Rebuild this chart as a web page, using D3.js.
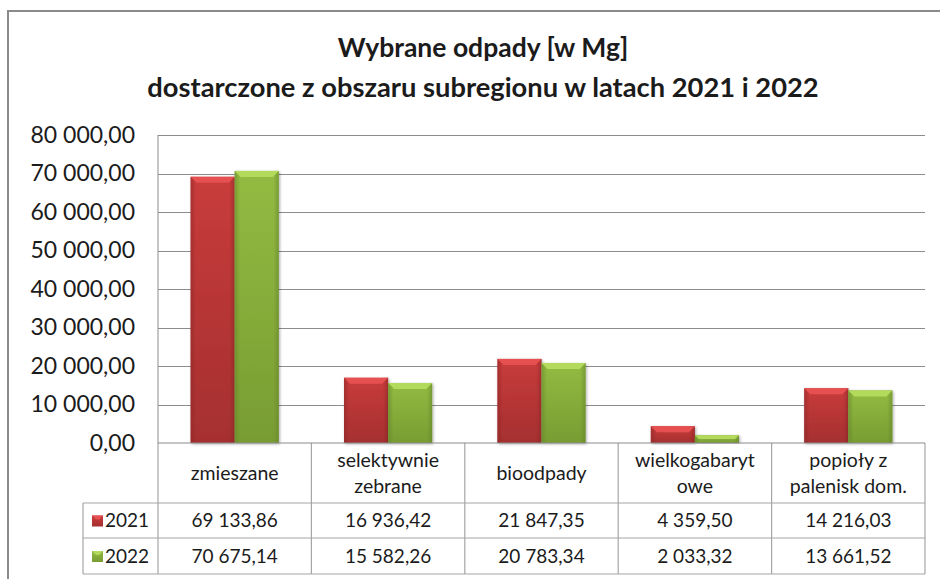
<!DOCTYPE html>
<html>
<head>
<meta charset="utf-8">
<script src="https://cdn.jsdelivr.net/npm/d3@7/dist/d3.min.js"></script>
<style>
  body { margin: 0; background: #fff; }
  svg { display: block; }
  text { font-family: Lato, "Open Sans", sans-serif; fill: #1b1b1b; }
</style>
</head>
<body>
<div id="chart"></div>
<script>
// data
let categories = ["zmieszane", "selektywnie\nzebrane", "bioodpady", "wielkogabaryt\nowe", "popioły z\npalenisk dom."];
let years = ["2021", "2022"];
let values2021 = [69133.86, 16936.42, 21847.35, 4359.50, 14216.03];
let values2022 = [70675.14, 15582.26, 20783.34, 2033.32, 13661.52];
let yTicks = [0, 10000, 20000, 30000, 40000, 50000, 60000, 70000, 80000];
let titleLines = ["Wybrane odpady [w Mg]", "dostarczone z obszaru subregionu w latach 2021 i 2022"];

let width = 940, height = 579;
let plot = { left: 158, right: 925, top: 135, bottom: 443 };
let rowH = [60, 35, 36];   // header row, 2021 row, 2022 row
let legendLeft = 83;

let colors = {
  "2021": { top: "#e65050", mid: "#c93c3c", bot: "#a52f2f", edge: "#8a2626" },
  "2022": { top: "#b4da5c", mid: "#93bb42", bot: "#789c32", edge: "#62822a" }
};

let pl = d3.formatLocale({ decimal: ",", thousands: "\u00a0", grouping: [3], currency: ["", ""] });
let fmt = pl.format(",.2f");

let data = categories.map((c, i) => ({ cat: c, "2021": values2021[i], "2022": values2022[i] }));

let svg = d3.select("#chart").append("svg")
  .attr("width", width)
  .attr("height", height);

let defs = svg.append("defs");
years.forEach(yr => {
  let g = defs.append("linearGradient").attr("id", "grad" + yr)
    .attr("x1", 0).attr("y1", 0).attr("x2", 0).attr("y2", 1);
  g.append("stop").attr("offset", "0%").attr("stop-color", colors[yr].mid);
  g.append("stop").attr("offset", "100%").attr("stop-color", colors[yr].bot);
  let s = defs.append("linearGradient").attr("id", "side" + yr)
    .attr("x1", 0).attr("y1", 0).attr("x2", 1).attr("y2", 0);
  s.append("stop").attr("offset", "0%").attr("stop-color", colors[yr].edge).attr("stop-opacity", 0.55);
  s.append("stop").attr("offset", "12%").attr("stop-color", colors[yr].edge).attr("stop-opacity", 0);
  s.append("stop").attr("offset", "88%").attr("stop-color", colors[yr].edge).attr("stop-opacity", 0);
  s.append("stop").attr("offset", "100%").attr("stop-color", colors[yr].edge).attr("stop-opacity", 0.55);
});
let shadow = defs.append("filter").attr("id", "shadow")
  .attr("x", "-20%").attr("y", "-10%").attr("width", "140%").attr("height", "120%");
shadow.append("feDropShadow").attr("dx", 1).attr("dy", 1).attr("stdDeviation", 1.5)
  .attr("flood-color", "#000").attr("flood-opacity", 0.35);

// outer border of the chart area
svg.append("rect")
  .attr("x", 8).attr("y", 11)
  .attr("width", 960).attr("height", 600)
  .attr("fill", "none")
  .attr("stroke", "#8a8a8a")
  .attr("stroke-width", 2);

// title
svg.append("g").selectAll("text")
  .data(titleLines)
  .enter().append("text")
  .attr("x", 483)
  .attr("y", (d, i) => 57 + i * 40)
  .attr("text-anchor", "middle")
  .attr("font-size", (d, i) => i === 0 ? "26.5px" : "27.3px")
  .attr("font-weight", "bold")
  .text(d => d);

// scales
let x = d3.scaleBand()
  .domain(categories)
  .range([plot.left, plot.right])
  .paddingInner(0).paddingOuter(0);

let x1 = d3.scaleBand()
  .domain(years)
  .range([0, x.bandwidth()])
  .paddingInner(0).paddingOuter(0.74);

let y = d3.scaleLinear()
  .domain([0, 80000])
  .range([plot.bottom, plot.top]);

// gridlines
svg.append("g").selectAll("line")
  .data(yTicks.slice(1))
  .enter().append("line")
  .attr("x1", plot.left).attr("x2", plot.right)
  .attr("y1", d => Math.round(y(d)) + 0.5).attr("y2", d => Math.round(y(d)) + 0.5)
  .attr("stroke", "#8c8c8c");

// y axis labels
let yAxis = svg.append("g")
  .attr("transform", "translate(" + (plot.left - 23) + ",0)")
  .call(d3.axisLeft(y).tickValues(yTicks).tickFormat(fmt).tickSize(0).tickPadding(0));
yAxis.select(".domain").remove();
yAxis.selectAll("text")
  .attr("font-size", "23px")
  .attr("font-family", "Lato, sans-serif")
  .attr("fill", "#1b1b1b");

// bars
let groups = svg.append("g").selectAll("g")
  .data(data)
  .enter().append("g")
  .attr("transform", d => "translate(" + x(d.cat) + ",0)");

let bars = groups.selectAll("g")
  .data(d => years.map(yr => ({ key: yr, value: d[yr] })))
  .enter().append("g");

bars.append("rect")
  .attr("x", d => x1(d.key))
  .attr("y", d => y(d.value))
  .attr("width", x1.bandwidth())
  .attr("height", d => y(0) - y(d.value))
  .attr("fill", d => "url(#grad" + d.key + ")")
  .attr("filter", "url(#shadow)");

bars.append("rect")
  .attr("x", d => x1(d.key))
  .attr("y", d => y(d.value))
  .attr("width", x1.bandwidth())
  .attr("height", d => y(0) - y(d.value))
  .attr("fill", d => "url(#side" + d.key + ")");

// top bevel
bars.append("path")
  .attr("d", d => {
    let x0 = x1(d.key), w = x1.bandwidth(), t = y(d.value);
    let b = Math.min(6, (y(0) - t) / 2);
    return "M" + x0 + "," + t + "L" + (x0 + w) + "," + t +
      "L" + (x0 + w - b) + "," + (t + b) + "L" + (x0 + b) + "," + (t + b) + "Z";
  })
  .attr("fill", d => colors[d.key].top);

// table
let tableTop = plot.bottom;
let r1 = tableTop + rowH[0], r2 = r1 + rowH[1], r3 = r2 + rowH[2];
let lineColor = "#a6a6a6";
let tbl = svg.append("g").attr("stroke", lineColor).attr("stroke-width", 1.2);

// horizontal lines
tbl.append("line").attr("x1", legendLeft).attr("x2", plot.right).attr("y1", r1).attr("y2", r1);
tbl.append("line").attr("x1", legendLeft).attr("x2", plot.right).attr("y1", r2).attr("y2", r2);
tbl.append("line").attr("x1", legendLeft).attr("x2", plot.right).attr("y1", r3).attr("y2", r3);
// vertical lines
tbl.append("line").attr("x1", legendLeft).attr("x2", legendLeft).attr("y1", r1).attr("y2", r3);
tbl.selectAll(".v")
  .data(categories.map(c => x(c)).concat([plot.right]))
  .enter().append("line")
  .attr("class", "v")
  .attr("x1", d => d).attr("x2", d => d)
  .attr("y1", tableTop).attr("y2", r3);
// left axis line of the plot
svg.append("line")
  .attr("x1", plot.left).attr("x2", plot.left)
  .attr("y1", plot.top).attr("y2", plot.bottom)
  .attr("stroke", "#8c8c8c");
// category axis line
svg.append("line")
  .attr("x1", plot.left).attr("x2", plot.right)
  .attr("y1", plot.bottom).attr("y2", plot.bottom)
  .attr("stroke", "#8c8c8c").attr("stroke-width", 1.2);

// category header labels
let header = svg.append("g").selectAll("text")
  .data(categories)
  .enter().append("text")
  .attr("x", d => x(d) + x.bandwidth() / 2)
  .attr("text-anchor", "middle")
  .attr("font-size", "19.5px");
header.each(function(d) {
  let lines = d.split("\n");
  let mid = tableTop + rowH[0] / 2;
  let start = mid - (lines.length - 1) * 13;
  lines.forEach((l, i) => {
    d3.select(this).append("tspan")
      .attr("x", x(d) + x.bandwidth() / 2)
      .attr("y", start + i * 26)
      .attr("dy", "0.35em")
      .text(l);
  });
});

// value rows
let rows = [{ key: "2021", vals: values2021, y0: r1, h: rowH[1] },
            { key: "2022", vals: values2022, y0: r2, h: rowH[2] }];

rows.forEach(r => {
  svg.append("g").selectAll("text")
    .data(r.vals)
    .enter().append("text")
    .attr("x", (d, i) => x(categories[i]) + x.bandwidth() / 2)
    .attr("y", r.y0 + r.h / 2)
    .attr("dy", "0.36em")
    .attr("text-anchor", "middle")
    .attr("font-size", "19px")
    .text(d => fmt(d));

  // legend key
  let cy = r.y0 + r.h / 2;
  svg.append("rect")
    .attr("x", legendLeft + 9).attr("y", cy - 5)
    .attr("width", 11).attr("height", 11)
    .attr("fill", "url(#grad" + r.key + ")");
  svg.append("path")
    .attr("d", "M" + (legendLeft + 9) + "," + (cy - 5) + "L" + (legendLeft + 20) + "," + (cy - 5) +
      "L" + (legendLeft + 16) + "," + (cy - 1) + "L" + (legendLeft + 13) + "," + (cy - 1) + "Z")
    .attr("fill", colors[r.key].top);
  svg.append("text")
    .attr("x", legendLeft + 22)
    .attr("y", cy)
    .attr("dy", "0.36em")
    .attr("font-size", "19px")
    .text(r.key);
});
</script>
</body>
</html>
